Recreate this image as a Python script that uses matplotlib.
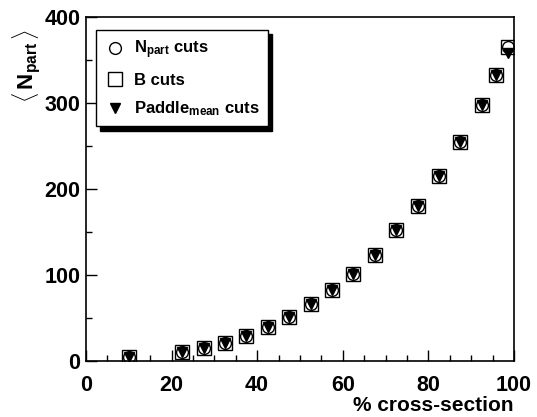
import numpy as np
import matplotlib
matplotlib.use('Agg')
import matplotlib.pyplot as plt
from matplotlib.ticker import MultipleLocator

plt.rcParams['font.family'] = ['Liberation Sans', 'DejaVu Sans']
plt.rcParams['font.weight'] = 'bold'
plt.rcParams['mathtext.fontset'] = 'custom'
plt.rcParams['mathtext.rm'] = 'Liberation Sans:bold'
plt.rcParams['mathtext.bf'] = 'Liberation Sans:bold'
plt.rcParams['mathtext.it'] = 'Liberation Sans:bold'

# centrality bin centres (% cross-section)
xsec = [10, 22.5, 27.5, 32.5, 37.5, 42.5, 47.5, 52.5, 57.5, 62.5, 67.5,
        72.5, 77.5, 82.5, 87.5, 92.5, 95.8, 98.7]
npart_cuts = [5, 11, 15.5, 21, 29, 40, 51.5, 66, 83, 101, 123,
              152, 180, 215, 255, 298, 333, 365]
b_cuts = [5, 11, 15.5, 21, 29, 40, 51.5, 66, 83, 101, 123,
          152, 180, 215, 255, 298, 333, 365]
paddle_cuts = [5, 11, 15.5, 21, 29, 40, 51.5, 66, 83, 101, 123,
               152, 180, 215, 255, 298, 333, 358]

fig = plt.figure(figsize=(5.37, 4.17), dpi=100)
ax = fig.add_axes([0.160, 0.134, 0.797, 0.825])

ax.plot(xsec, b_cuts, 's', ms=9.5, mfc='white', mec='black', mew=1.0, ls='none', label='B cuts')
ax.plot(xsec, npart_cuts, 'o', ms=8.5, mfc='white', mec='black', mew=1.0, ls='none',
        label=r'$\mathbf{N_{part}}$ cuts')
ax.plot(xsec, paddle_cuts, 'v', ms=7, mfc='black', mec='black', ls='none',
        label=r'$\mathbf{Paddle_{mean}}$ cuts')

ax.set_xlim(0, 100)
ax.set_ylim(0, 400)
ax.xaxis.set_major_locator(MultipleLocator(20))
ax.xaxis.set_minor_locator(MultipleLocator(5))
ax.yaxis.set_major_locator(MultipleLocator(100))
ax.yaxis.set_minor_locator(MultipleLocator(50))
ax.tick_params(which='both', direction='in', top=False, right=False, width=1.0)
ax.tick_params(which='major', length=8, labelsize=15.5)
ax.tick_params(axis='x', which='major', pad=10)
ax.tick_params(axis='y', which='major', pad=4)
ax.tick_params(which='minor', length=4)
for s in ax.spines.values():
    s.set_linewidth(1.2)

ax.set_xlabel('% cross-section', fontsize=15, fontweight='bold', loc='right', labelpad=0)
ax.set_ylabel(r'$\langle\,\mathbf{N_{part}}\,\rangle$', fontsize=16, loc='top')
ax.yaxis.set_label_coords(-0.10, 0.965)

h, l = ax.get_legend_handles_labels()
order = [1, 0, 2]
leg = ax.legend([h[i] for i in order], [l[i] for i in order], loc='upper left',
                bbox_to_anchor=(0.023, 0.962), borderaxespad=0, fontsize=12,
                frameon=True, fancybox=False,
                shadow={'color': 'black', 'alpha': 1.0, 'ox': 3, 'oy': -3},
                edgecolor='black', borderpad=0.5, labelspacing=0.7, handletextpad=0.5,
                handlelength=1.3)
leg.get_frame().set_linewidth(1.0)
leg.get_frame().set_alpha(1.0)

fig.savefig('out.png', dpi=100)
